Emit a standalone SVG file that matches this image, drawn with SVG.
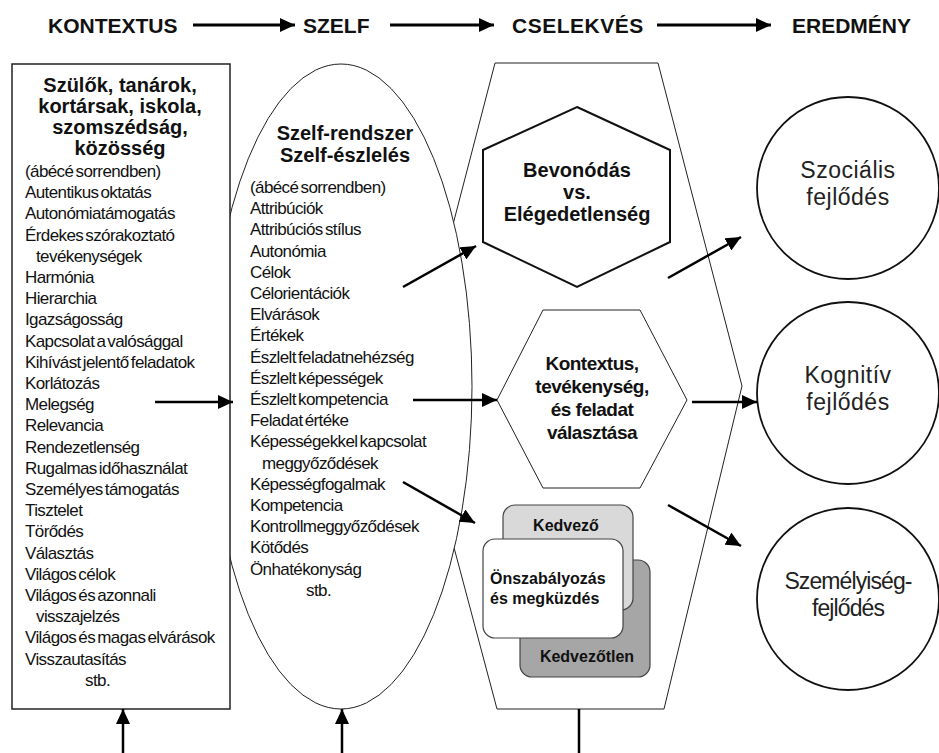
<svg xmlns="http://www.w3.org/2000/svg" width="939" height="753" viewBox="0 0 939 753">
<defs>
<marker id="ah" markerUnits="userSpaceOnUse" markerWidth="16" markerHeight="14" refX="15" refY="7" orient="auto">
<path d="M0,0 L15,7 L0,14 z" fill="#000"/>
</marker>
<style>
.hdr{font-family:"Liberation Sans",Arial,sans-serif;font-weight:bold;font-size:21px;fill:#111}
.bh{font-family:"Liberation Sans",Arial,sans-serif;font-weight:bold;font-size:20px;fill:#111;text-anchor:middle}
.li{font-family:"Liberation Sans",Arial,sans-serif;font-size:17px;letter-spacing:-0.6px;word-spacing:-2px;fill:#111}
.ct{font-family:"Liberation Sans",Arial,sans-serif;font-size:23px;fill:#222;text-anchor:middle}
.cb{font-family:"Liberation Sans",Arial,sans-serif;font-weight:bold;font-size:16px;fill:#111}
.thin{fill:#fff;stroke:#222;stroke-width:1}
.conn line{stroke:#000;stroke-width:2.5}
.hconn line{stroke:#000;stroke-width:3}
</style>
</defs>
<rect width="939" height="753" fill="#fff"/>

<g id="header">
<text class="hdr" x="48" y="33">KONTEXTUS</text>
<text class="hdr" x="303" y="33">SZELF</text>
<text class="hdr" x="512" y="33" letter-spacing="0.5">CSELEKVÉS</text>
<text class="hdr" x="792" y="33">EREDMÉNY</text>
</g>
<g class="hconn" id="header-arrows">
<line x1="193" y1="25" x2="295" y2="25" marker-end="url(#ah)"/>
<line x1="390" y1="25" x2="494" y2="25" marker-end="url(#ah)"/>
<line x1="657" y1="25" x2="771" y2="25" marker-end="url(#ah)"/>
</g>

<g id="cselekves">
<polygon class="thin" points="495,63 658,63 742,386 664,709 497,709 411,386"/>
</g>

<g id="szelf">
<ellipse class="thin" cx="341" cy="386.5" rx="131" ry="322.5"/>
<text class="bh" x="345" y="140">Szelf-rendszer</text>
<text class="bh" x="345" y="162">Szelf-észlelés</text>
<text class="li">
<tspan x="250" y="193">(ábécé sorrendben)</tspan>
<tspan x="250" y="214.2">Attribúciók</tspan>
<tspan x="250" y="235.4">Attribúciós stílus</tspan>
<tspan x="250" y="256.6">Autonómia</tspan>
<tspan x="250" y="277.8">Célok</tspan>
<tspan x="250" y="299">Célorientációk</tspan>
<tspan x="250" y="320.2">Elvárások</tspan>
<tspan x="250" y="341.4">Értékek</tspan>
<tspan x="250" y="362.6">Észlelt feladatnehézség</tspan>
<tspan x="250" y="383.8">Észlelt képességek</tspan>
<tspan x="250" y="405">Észlelt kompetencia</tspan>
<tspan x="250" y="426.2">Feladat értéke</tspan>
<tspan x="250" y="447.4">Képességekkel kapcsolat</tspan>
<tspan x="262" y="468.6">meggyőződések</tspan>
<tspan x="250" y="489.8">Képességfogalmak</tspan>
<tspan x="250" y="511">Kompetencia</tspan>
<tspan x="250" y="532.2">Kontrollmeggyőződések</tspan>
<tspan x="250" y="553.4">Kötődés</tspan>
<tspan x="250" y="574.6">Önhatékonyság</tspan>
<tspan x="306" y="595.8">stb.</tspan>
</text>
</g>

<g id="kontextus">
<rect x="12" y="64" width="218" height="645" fill="#fff" stroke="#222" stroke-width="1.5"/>
<text class="bh" x="120" y="92">Szülők, tanárok,</text>
<text class="bh" x="120" y="113">kortársak, iskola,</text>
<text class="bh" x="120" y="134">szomszédság,</text>
<text class="bh" x="120" y="155">közösség</text>
<text class="li">
<tspan x="25" y="177">(ábécé sorrendben)</tspan>
<tspan x="25" y="198.2">Autentikus oktatás</tspan>
<tspan x="25" y="219.4">Autonómiatámogatás</tspan>
<tspan x="25" y="240.6">Érdekes szórakoztató</tspan>
<tspan x="36" y="261.8">tevékenységek</tspan>
<tspan x="25" y="283">Harmónia</tspan>
<tspan x="25" y="304.2">Hierarchia</tspan>
<tspan x="25" y="325.4">Igazságosság</tspan>
<tspan x="25" y="346.6">Kapcsolat a valósággal</tspan>
<tspan x="25" y="367.8">Kihívást jelentő feladatok</tspan>
<tspan x="25" y="389">Korlátozás</tspan>
<tspan x="25" y="410.2">Melegség</tspan>
<tspan x="25" y="431.4">Relevancia</tspan>
<tspan x="25" y="452.6">Rendezetlenség</tspan>
<tspan x="25" y="473.8">Rugalmas időhasználat</tspan>
<tspan x="25" y="495">Személyes támogatás</tspan>
<tspan x="25" y="516.2">Tisztelet</tspan>
<tspan x="25" y="537.4">Törődés</tspan>
<tspan x="25" y="558.6">Választás</tspan>
<tspan x="25" y="579.8">Világos célok</tspan>
<tspan x="25" y="601">Világos és azonnali</tspan>
<tspan x="36" y="622.2">visszajelzés</tspan>
<tspan x="25" y="643.4">Világos és magas elvárások</tspan>
<tspan x="25" y="664.6">Visszautasítás</tspan>
<tspan x="85" y="685.8">stb.</tspan>
</text>
</g>

<g id="bevonodas">
<polygon points="577,107 670,150 670,242 577,287 483,242 483,150" fill="#fff" stroke="#111" stroke-width="2"/>
<text class="bh" x="577" y="177">Bevonódás</text>
<text class="bh" x="577" y="199">vs.</text>
<text class="bh" x="577" y="221">Elégedetlenség</text>
</g>

<g id="kontextus-valasztas">
<polygon class="thin" points="543,310 640,310 687,400 640,488 543,488 497,400"/>
<text class="bh" style="font-size:19px;letter-spacing:-0.5px" x="592" y="370">Kontextus,</text>
<text class="bh" style="font-size:19px;letter-spacing:-0.5px" x="592" y="393">tevékenység,</text>
<text class="bh" style="font-size:19px;letter-spacing:-0.5px" x="592" y="416">és feladat</text>
<text class="bh" style="font-size:19px;letter-spacing:-0.5px" x="592" y="439">választása</text>
</g>

<g id="kedvezotlen">
<rect x="520" y="560" width="130" height="117" rx="12" fill="#a6a6a6" stroke="#444" stroke-width="1.2"/>
<text class="cb" x="587" y="662" text-anchor="middle">Kedvezőtlen</text>
</g>
<g id="kedvezo">
<rect x="503" y="505" width="130" height="105" rx="12" fill="#d9d9d9" stroke="#444" stroke-width="1.2"/>
<text class="cb" x="566" y="531" text-anchor="middle">Kedvező</text>
</g>
<g id="onszabalyozas">
<rect x="483" y="539" width="140" height="99" rx="12" fill="#fff" stroke="#444" stroke-width="1.2"/>
<text class="cb" x="490" y="584">Önszabályozás</text>
<text class="cb" x="490" y="604">és megküzdés</text>
</g>

<g id="szocialis">
<circle cx="848" cy="188" r="91" fill="#fff" stroke="#111" stroke-width="1.8"/>
<text class="ct" x="848" y="178" letter-spacing="0.5">Szociális</text>
<text class="ct" x="848" y="205" letter-spacing="0.5">fejlődés</text>
</g>
<g id="kognitiv">
<circle cx="848" cy="393" r="91" fill="#fff" stroke="#111" stroke-width="1.8"/>
<text class="ct" x="848" y="383" letter-spacing="0.5">Kognitív</text>
<text class="ct" x="848" y="410" letter-spacing="0.5">fejlődés</text>
</g>
<g id="szemelyiseg">
<circle cx="848" cy="599" r="91" fill="#fff" stroke="#111" stroke-width="1.8"/>
<text class="ct" x="848" y="589" letter-spacing="-0.9">Személyiség-</text>
<text class="ct" x="848" y="616" letter-spacing="-0.9">fejlődés</text>
</g>

<g class="conn" id="connectors">
<line x1="155" y1="402" x2="233" y2="402" marker-end="url(#ah)"/>
<line x1="413" y1="400" x2="497" y2="400" marker-end="url(#ah)"/>
<line x1="403" y1="287" x2="476" y2="246" marker-end="url(#ah)"/>
<line x1="403" y1="482" x2="475" y2="523" marker-end="url(#ah)"/>
<line x1="668" y1="278" x2="741" y2="237" marker-end="url(#ah)"/>
<line x1="692" y1="402" x2="757" y2="402" marker-end="url(#ah)"/>
<line x1="668" y1="505" x2="741" y2="546" marker-end="url(#ah)"/>
<line x1="123" y1="753" x2="123" y2="709" marker-end="url(#ah)"/>
<line x1="342" y1="753" x2="342" y2="709" marker-end="url(#ah)"/>
<line x1="579" y1="709" x2="579" y2="753"/>
</g>
</svg>
